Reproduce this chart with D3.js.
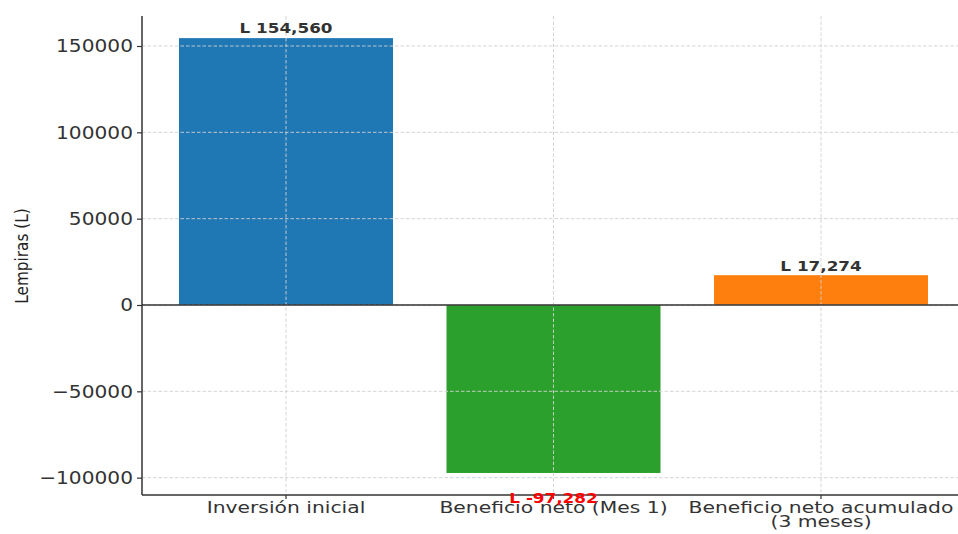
<!DOCTYPE html>
<html><head><meta charset="utf-8">
<script src="https://cdn.jsdelivr.net/npm/d3@7"></script>
<style>body{margin:0;background:#fff}svg{display:block}</style>
</head><body>
<svg id="c" width="958" height="534"></svg>
<script>
const categories = ["Inversión inicial", "Beneficio neto (Mes 1)", "Beneficio neto acumulado\n(3 meses)"];
const values = [154560, -97282, 17274];
const valueLabels = ["L 154,560", "L -97,282", "L 17,274"];
const colors = ["#1f77b4", "#2ca02c", "#ff7f0e"];
const yTicks = [-100000, -50000, 0, 50000, 100000, 150000];
const yLabel = "Lempiras (L)";

(function(){
const svg = d3.select("#c");
const pL = 142, pT = 16, pB = 495, W = 958;
const y = d3.scaleLinear().domain([-110039, 167374]).range([pB, pT]);
const x = d3.scaleBand().domain(d3.range(categories.length)).range([125.5, 981.5]).padding(0.2);
const xc = i => x(i) + x.bandwidth()/2;
const bw = x.bandwidth();

// bars
svg.selectAll("rect.bar").data(values).join("rect")
  .attr("x", (d,i) => x(i))
  .attr("width", bw)
  .attr("y", d => y(Math.max(0,d)))
  .attr("height", d => Math.abs(y(d) - y(0)))
  .attr("fill", (d,i) => colors[i]);

// grid
const g = svg.append("g").attr("stroke", "#d0d0d0").attr("stroke-width", 0.9).attr("stroke-dasharray", "3.5,2");
g.selectAll("line.h").data(yTicks).join("line")
  .attr("x1", pL).attr("x2", W).attr("y1", d => y(d)).attr("y2", d => y(d));
g.selectAll("line.v").data(values).join("line")
  .attr("x1", (d,i) => xc(i)).attr("x2", (d,i) => xc(i)).attr("y1", pT).attr("y2", pB);

// zero line
svg.append("line").attr("x1", pL).attr("x2", W).attr("y1", y(0)).attr("y2", y(0))
  .attr("stroke", "#333").attr("stroke-width", 1.3);

// y axis
const yAxis = d3.axisLeft(y).tickValues(yTicks).tickSize(5).tickPadding(6)
  .tickFormat(d => d < 0 ? "\u2212" + Math.abs(d) : String(d));
const ya = svg.append("g").attr("transform", `translate(${pL},0)`).call(yAxis);
ya.select(".domain").remove();
ya.selectAll("line").attr("stroke", "#333").attr("stroke-width", 1.2);
ya.selectAll("text").attr("fill", "#333").attr("font-family", "DejaVu Sans")
  .attr("font-size", 18).attr("text-anchor","end")
  .attr("transform", "scale(1.12,1)").attr("x", -9/1.12);

// x tick marks
svg.selectAll("line.xt").data(values).join("line")
  .attr("x1", (d,i) => xc(i)).attr("x2", (d,i) => xc(i)).attr("y1", pB).attr("y2", pB + 4)
  .attr("stroke", "#333").attr("stroke-width", 1.2);

// spines
svg.append("line").attr("x1", pL).attr("x2", pL).attr("y1", pT).attr("y2", pB).attr("stroke", "#333").attr("stroke-width", 1.5);
svg.append("line").attr("x1", pL).attr("x2", W).attr("y1", pB).attr("y2", pB).attr("stroke", "#333").attr("stroke-width", 1.5);

// x labels
categories.forEach((c, i) => {
  const lines = c.split("\n");
  const t = svg.append("text").attr("text-anchor", "middle").attr("fill", "#333")
    .attr("font-family", "DejaVu Sans").attr("font-size", 16)
    .attr("transform", `translate(${xc(i)},0) scale(1.27,1)`);
  lines.forEach((l, j) => t.append("tspan").attr("x", 0).attr("y", 513.5 + j*14).text(l));
});

// value labels
const labelY = [32.5, 502.5, 270.5];
values.forEach((v, i) => {
  svg.append("text").attr("text-anchor", "middle")
    .attr("transform", `translate(${xc(i)},${labelY[i]}) scale(1.2,1)`)
    .attr("font-family", "DejaVu Sans").attr("font-weight", "bold").attr("font-size", 14)
    .attr("fill", v < 0 ? "#ff0000" : "#333").text(valueLabels[i]);
});

// y label
svg.append("text").attr("transform", "translate(28,256) rotate(-90)").attr("text-anchor", "middle")
  .attr("font-family", "DejaVu Sans Condensed, DejaVu Sans").attr("font-stretch","condensed").attr("font-size", 17)
  .attr("fill", "#222").text(yLabel);
})();
</script>
</body></html>
